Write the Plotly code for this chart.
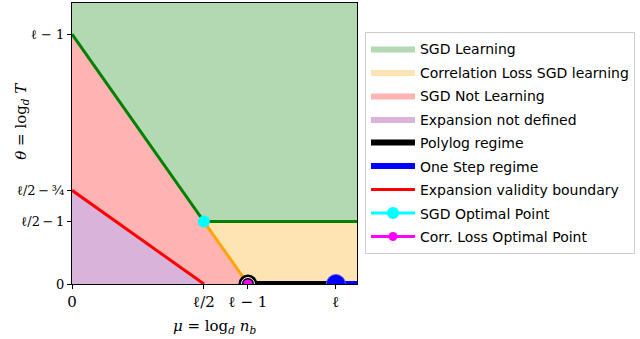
import plotly.graph_objects as go

# Phase diagram in (mu, theta) with ell = 3
ell = 3
x_hi, y_hi = 3.24, 2.25

# Region polygons
green_x = [0, ell / 2, x_hi, x_hi, 0]
green_y = [ell - 1, ell / 2 - 1, ell / 2 - 1, y_hi, y_hi]
orange_x = [ell / 2, x_hi, x_hi, ell - 1]
orange_y = [ell / 2 - 1, ell / 2 - 1, 0, 0]
red_x = [0, ell / 2, ell - 1, 0]
red_y = [ell - 1, ell / 2 - 1, 0, 0]
purple_x = [0, ell / 2, 0]
purple_y = [ell / 2 - 3 / 4, 0, 0]

# Boundaries
green_line_x = [0, ell / 2, x_hi]
green_line_y = [ell - 1, ell / 2 - 1, ell / 2 - 1]
orange_line_x = [ell / 2, ell - 1]
orange_line_y = [ell / 2 - 1, 0]
red_line_x = [0, ell / 2]
red_line_y = [ell / 2 - 3 / 4, 0]
polylog_x = [ell - 1, ell]
polylog_y = [0, 0]
onestep_x = [ell, x_hi]
onestep_y = [0, 0]
sgd_opt = (ell / 2, ell / 2 - 1)
corr_opt = (ell - 1, 0)

x_tickvals = [0, ell / 2, ell - 1, ell]
x_ticktext = ["0", "ℓ/2", "ℓ − 1", "ℓ"]
y_tickvals = [0, ell / 2 - 1, ell / 2 - 3 / 4, ell - 1]
y_ticktext = ["0", "ℓ/2\u2009−\u20091", "ℓ/2\u2009−\u2009¾", "ℓ − 1"]

fig = go.Figure()

def add_fill(x, y, color, name, group):
    fig.add_trace(go.Scatter(x=x, y=y, fill="toself", fillcolor=color, mode="lines",
                             line=dict(width=0, color=color), name=name,
                             legendgroup=group, hoverinfo="skip"))

add_fill(green_x, green_y, "rgb(179,217,179)", "SGD Learning", "a")
add_fill(orange_x, orange_y, "rgb(255,228,179)", "Correlation Loss SGD learning", "b")
add_fill(red_x, red_y, "rgb(255,179,179)", "SGD Not Learning", "c")
add_fill(purple_x, purple_y, "rgb(217,179,217)", "Expansion not defined", "d")

fig.add_trace(go.Scatter(x=green_line_x, y=green_line_y, mode="lines",
                         line=dict(color="green", width=3), showlegend=False))
fig.add_trace(go.Scatter(x=orange_line_x, y=orange_line_y, mode="lines",
                         line=dict(color="orange", width=3), showlegend=False))

# Polylog regime (black) and one step regime (blue)
fig.add_trace(go.Scatter(x=polylog_x, y=polylog_y, mode="lines",
                         line=dict(color="black", width=6),
                         name="Polylog regime", legendgroup="e"))
fig.add_trace(go.Scatter(x=polylog_x[:1], y=polylog_y[:1], mode="markers",
                         marker=dict(size=19, color="black"),
                         showlegend=False, hoverinfo="skip"))
fig.add_trace(go.Scatter(x=[corr_opt[0]], y=[corr_opt[1]], mode="markers",
                         marker=dict(size=13, color="black", line=dict(color="white", width=1)),
                         showlegend=False, hoverinfo="skip"))
fig.add_trace(go.Scatter(x=onestep_x, y=onestep_y, mode="lines",
                         line=dict(color="blue", width=6),
                         name="One Step regime", legendgroup="f"))
fig.add_trace(go.Scatter(x=onestep_x[:1], y=onestep_y[:1], mode="markers",
                         marker=dict(size=19, color="blue",
                                     line=dict(color="rgb(90,90,255)", width=1)),
                         showlegend=False, hoverinfo="skip"))
fig.add_trace(go.Scatter(x=red_line_x, y=red_line_y, mode="lines",
                         line=dict(color="red", width=3),
                         name="Expansion validity boundary", legendgroup="g"))
fig.add_trace(go.Scatter(x=[sgd_opt[0]], y=[sgd_opt[1]], mode="lines+markers",
                         line=dict(color="cyan", width=3),
                         marker=dict(size=12, color="cyan"),
                         name="SGD Optimal Point", legendgroup="h"))
fig.add_trace(go.Scatter(x=[corr_opt[0]], y=[corr_opt[1]], mode="lines+markers",
                         line=dict(color="magenta", width=3),
                         marker=dict(size=9, color="magenta"),
                         name="Corr. Loss Optimal Point", legendgroup="i"))

tick_font = dict(family="DejaVu Serif", size=15, color="black")
ytick_font = dict(family="DejaVu Serif", size=13, color="black")
title_font = dict(family="DejaVu Serif", size=15, color="black")

# y-axis title as a rotated annotation so it can sit over the tick label column
fig.add_annotation(text="<i>θ</i> = log<sub><i>d</i></sub> <i>T</i>",
                   xref="paper", yref="paper", x=-0.18, y=0.58,
                   textangle=-90, showarrow=False, font=title_font,
                   xanchor="center", yanchor="middle")

fig.update_layout(
    width=640, height=339,
    margin=dict(l=72, r=283, t=3, b=55, autoexpand=False),
    paper_bgcolor="white", plot_bgcolor="white",
    showlegend=True,
    legend=dict(x=1.028, y=0.897, xanchor="left", yanchor="top",
                bordercolor="rgb(204,204,204)", borderwidth=1, bgcolor="white",
                font=dict(family="DejaVu Sans", size=14, color="black"),
                traceorder="grouped", tracegroupgap=2.3, itemwidth=44),
    xaxis=dict(range=[0, x_hi], tickvals=x_tickvals, ticktext=x_ticktext,
               showgrid=False, zeroline=False, showline=True, mirror=True,
               linecolor="black", linewidth=1.2, ticks="outside", ticklen=4,
               tickcolor="black", tickfont=tick_font, automargin=False,
               title=dict(text="<i>μ</i> = log<sub><i>d</i></sub> <i>n<sub>b</sub></i>",
                          font=title_font, standoff=10)),
    yaxis=dict(range=[0, y_hi], tickvals=y_tickvals, ticktext=y_ticktext,
               showgrid=False, zeroline=False, showline=True, mirror=True,
               linecolor="black", linewidth=1.2, ticks="outside", ticklen=4,
               tickcolor="black", tickfont=ytick_font, automargin=False),
)

fig.write_html("out.html", config={"displayModeBar": False},
               post_script="document.body.style.margin='0px';")
